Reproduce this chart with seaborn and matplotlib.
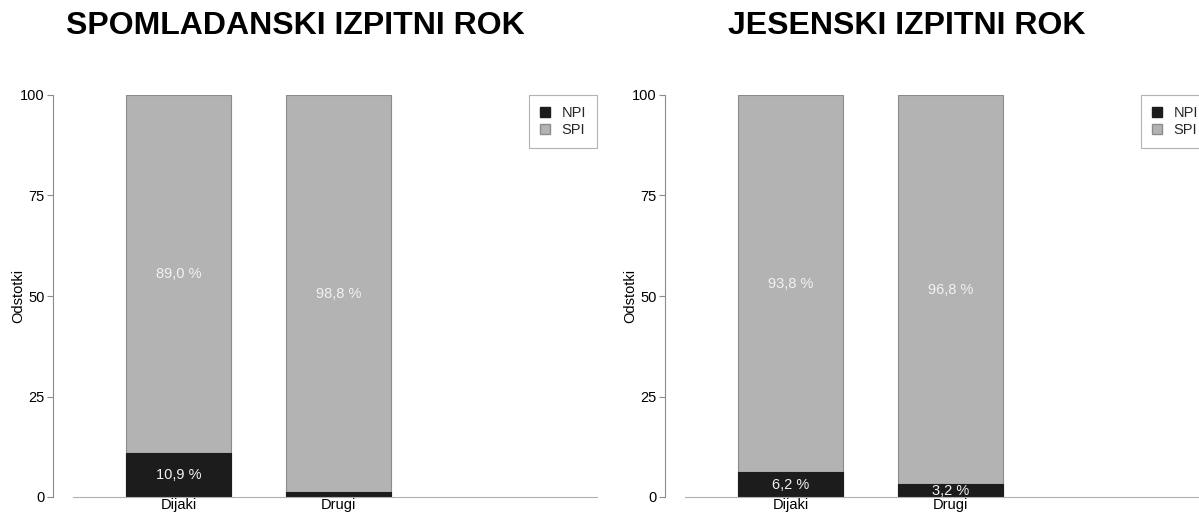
import numpy as np
import pandas as pd
import matplotlib
matplotlib.use("Agg")
import matplotlib.pyplot as plt
import seaborn as sns
from matplotlib.patches import Patch

# data
skupine = ["Dijaki", "Drugi"]
pomlad_npi = [10.9, 1.2]
pomlad_spi = [89.0, 98.8]
jesen_npi = [6.2, 3.2]
jesen_spi = [93.8, 96.8]
naslovi = ["SPOMLADANSKI IZPITNI ROK", "JESENSKI IZPITNI ROK"]

sns.set_theme(style="white")
plt.rcParams['font.family'] = ['Liberation Sans', 'DejaVu Sans']

c_npi = "#1c1c1c"
c_spi = "#b3b3b3"
c_rob = "#8c8c8c"

fig = plt.figure(figsize=(11.99, 5.15), dpi=100)
W, H = 1199, 515

def panel(x0, npi, spi, naslov):
    ax = fig.add_axes([x0 / W, (H - 497) / H, 524 / W, 402 / H])
    df = pd.DataFrame({"skupina": skupine, "NPI": npi, "SPI": spi})
    df["skupaj"] = df["NPI"] + df["SPI"]
    sns.barplot(data=df, x="skupina", y="skupaj", color=c_spi, width=0.656,
                edgecolor=c_rob, linewidth=0.8, saturation=1, ax=ax)
    sns.barplot(data=df, x="skupina", y="NPI", color=c_npi, width=0.656,
                edgecolor=c_npi, linewidth=0.8, saturation=1, ax=ax)
    for i, (n, s) in enumerate(zip(npi, spi)):
        if n >= 2:
            ax.text(i, n / 2, f"{n:.1f} %".replace(".", ","), ha="center", va="center",
                    color="#f2f2f2", fontsize=10.5)
        ax.text(i, n + s / 2, f"{s:.1f} %".replace(".", ","), ha="center", va="center",
                color="#f2f2f2", fontsize=10.5)
    ax.set_xlim(-0.659, 2.616)
    ax.set_ylim(0, 100)
    ax.set_yticks([0, 25, 50, 75, 100])
    ax.set_xlabel("")
    ax.set_ylabel("Odstotki", fontsize=10.5, color="black", labelpad=-4)
    sns.despine(ax=ax, top=True, right=True)
    ax.spines["left"].set_position(("outward", 14.4))
    for sp in ["left", "bottom"]:
        ax.spines[sp].set_color(c_rob)
        ax.spines[sp].set_linewidth(0.8)
    ax.spines["bottom"].set_color("#b0b0b0")
    ax.tick_params(axis="y", left=True, length=4, width=0.8, color=c_rob,
                   labelsize=10.5, labelcolor="black", pad=2)
    ax.tick_params(axis="x", bottom=False, length=0, labelsize=10.5,
                   labelcolor="black", pad=1)
    leg = ax.legend(handles=[Patch(facecolor=c_npi, edgecolor=c_npi, label="NPI"),
                             Patch(facecolor=c_spi, edgecolor=c_rob, label="SPI")],
                    loc="upper right", bbox_to_anchor=(1.0, 1.0), borderaxespad=0,
                    fontsize=10.5, frameon=True, fancybox=False, handlelength=0.7,
                    handleheight=0.7, borderpad=0.75, labelspacing=0.2,
                    handletextpad=0.8)
    leg.get_frame().set_edgecolor("#a0a0a0")
    leg.get_frame().set_linewidth(0.8)
    fig.text((x0 - 20 + 242) / W, 1 - 26 / H, naslov, ha="center", va="center",
             fontsize=23, fontweight="bold", color="black")
    return ax

panel(73, pomlad_npi, pomlad_spi, naslovi[0])
panel(685, jesen_npi, jesen_spi, naslovi[1])

fig.savefig("out.png", dpi=100)
